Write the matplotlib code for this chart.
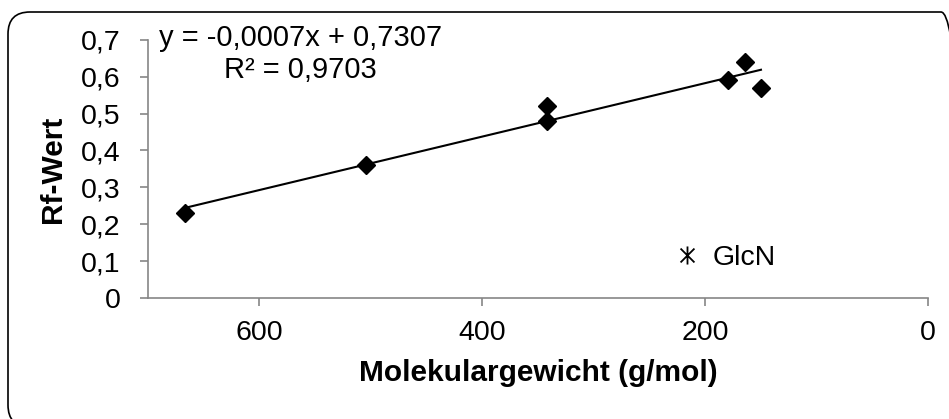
import matplotlib
matplotlib.use("Agg")
import matplotlib.pyplot as plt
import numpy as np
from matplotlib.patches import FancyBboxPatch
from matplotlib.path import Path
from matplotlib.ticker import FuncFormatter
from matplotlib.transforms import IdentityTransform

plt.rcParams['font.family'] = ['Liberation Sans', 'DejaVu Sans']

# Molekulargewicht (g/mol) und Rf-Werte
mw = np.array([667, 504, 342, 342, 180, 164, 150])
rf = np.array([0.23, 0.36, 0.52, 0.48, 0.59, 0.64, 0.57])
# GlcN: keine Punkte im Diagramm sichtbar
mw_glcn = []
rf_glcn = []

eq_text = "y = -0,0007x + 0,7307\nR² = 0,9703"

fig = plt.figure(figsize=(9.49, 4.19), dpi=100)
ax = fig.add_axes([0.156, 0.289, 0.822, 0.616])

# Sternmarker wie in Excel
star = Path([(-1, -1), (1, 1), (-1, 1), (1, -1), (0, -1.3), (0, 1.3)],
            [Path.MOVETO, Path.LINETO, Path.MOVETO, Path.LINETO, Path.MOVETO, Path.LINETO])

ax.plot(mw, rf, 'D', color='black', markersize=9, zorder=3)
ax.plot(mw_glcn, rf_glcn, linestyle='none', marker=star, markersize=13,
        markeredgecolor='black', markerfacecolor='none', markeredgewidth=1.3, label='GlcN')

# lineare Trendlinie
m, b = np.polyfit(mw, rf, 1)
xs = np.array([mw.min(), mw.max()])
ax.plot(xs, m * xs + b, color='black', linewidth=1.5)

ax.text(0.195, 1.06, eq_text, transform=ax.transAxes, ha='center', va='top',
        fontsize=21, linespacing=1.15)

ax.set_xlim(700, 0)
ax.set_ylim(0, 0.7)
ax.set_xticks([600, 400, 200, 0])
ax.set_yticks(np.arange(0, 0.71, 0.1))
ax.yaxis.set_major_formatter(FuncFormatter(lambda v, p: '0' if abs(v) < 1e-9 else ('%.1f' % v).replace('.', ',')))

for s in ['top', 'right']:
    ax.spines[s].set_visible(False)
for s in ['left', 'bottom']:
    ax.spines[s].set_color('#868686')
    ax.spines[s].set_linewidth(1.2)
ax.tick_params(colors='#868686', labelcolor='black', labelsize=20.5, length=6, width=1.2)
ax.tick_params(axis='y', pad=14)
ax.tick_params(axis='x', pad=10)

ax.set_xlabel('Molekulargewicht (g/mol)', fontsize=21.5, fontweight='bold', labelpad=9)
ax.set_ylabel('Rf-Wert', fontsize=21.5, fontweight='bold', labelpad=10)

ax.legend(loc='center left', bbox_to_anchor=(0.673, 0.155), frameon=False, fontsize=20.5,
          handlelength=1, handletextpad=0.4, borderpad=0, borderaxespad=0)

# abgerundeter Rahmen um das Diagramm
frame = FancyBboxPatch((8, -8), 955, 415, boxstyle='round,pad=0,rounding_size=22',
                       transform=IdentityTransform(), facecolor='none', edgecolor='black',
                       linewidth=1.2)
fig.patches.append(frame)

fig.savefig('out.png', dpi=100)
